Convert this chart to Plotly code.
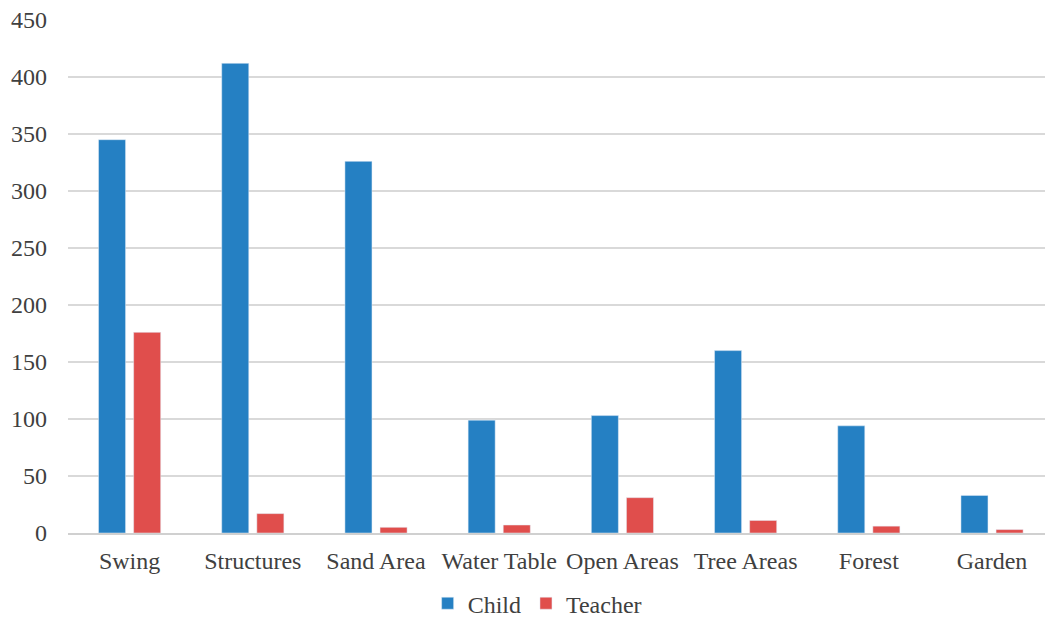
import plotly.graph_objects as go

categories = ["Swing", "Structures", "Sand Area", "Water Table", "Open Areas", "Tree Areas", "Forest", "Garden"]
child = [345, 412, 326, 99, 103, 160, 94, 33]
teacher = [176, 17, 5, 7, 31, 11, 6, 3]

fig = go.Figure()
fig.add_trace(go.Bar(name="Child", x=categories, y=child, marker_color="#2580C3"))
fig.add_trace(go.Bar(name="Teacher", x=categories, y=teacher, marker_color="#E04E4C"))

font = dict(family="Liberation Serif, Times New Roman, serif", size=24, color="#404040")
fig.update_layout(
    width=1045, height=621,
    margin=dict(l=68, r=0, t=20, b=88),
    barmode="group", bargap=0.43, bargroupgap=0.23,
    plot_bgcolor="white", paper_bgcolor="white",
    font=font,
    legend=dict(orientation="h", x=0.514, xanchor="center", xref="container",
                y=0.028, yanchor="middle", yref="container",
                font=font, itemwidth=30, tracegroupgap=0),
    xaxis=dict(range=[-0.5, 7.43], showline=True, linecolor="#d0d0d0", linewidth=1.5,
               tickfont=font, ticks="", ticklabelstandoff=5, automargin=False),
    yaxis=dict(range=[0, 450], dtick=50, showgrid=True, gridcolor="#d9d9d9", gridwidth=1.5,
               zeroline=False, tickfont=font, ticklabelstandoff=20, ticks="", automargin=False),
)
fig.write_html("out.html")
